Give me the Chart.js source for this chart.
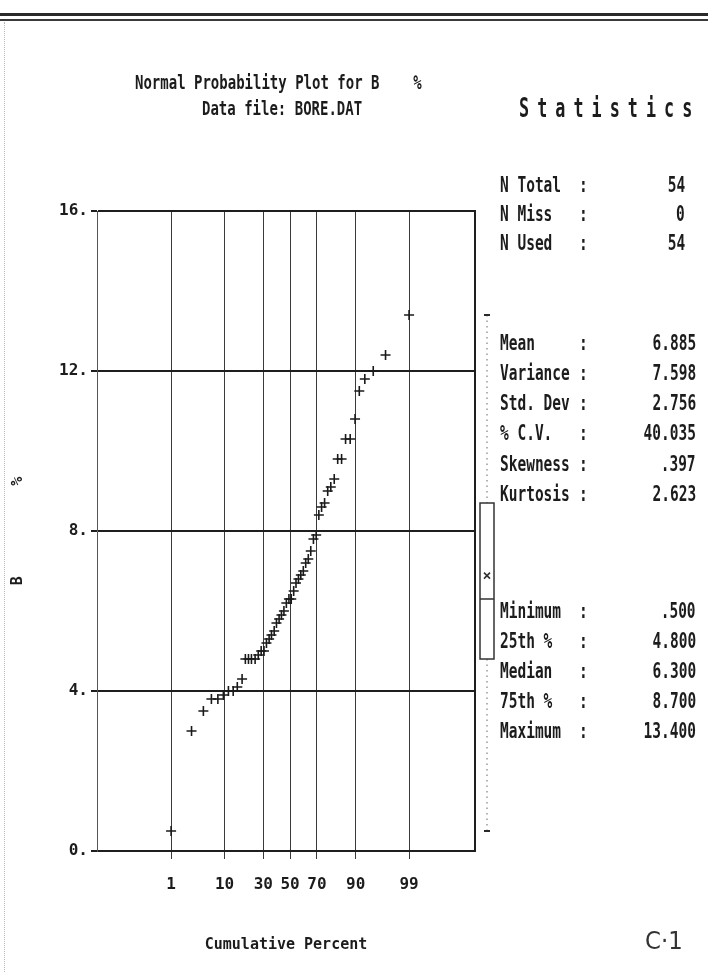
<!DOCTYPE html>
<html>
<head>
<meta charset="utf-8">
<script src="https://cdn.jsdelivr.net/npm/chart.js@4.4.1/dist/chart.umd.min.js"></script>
<style>
html,body{margin:0;padding:0;background:#fff;}
#wrap{position:relative;width:708px;height:972px;overflow:hidden;background:#fff;}
#c{position:absolute;left:0;top:0;}
.t{position:absolute;font-family:'DejaVu Sans Mono','Liberation Mono',monospace;font-weight:bold;color:#1c1c1c;white-space:pre;line-height:1;}
.edge1{position:absolute;left:0;width:708px;top:13px;height:3px;background:#2a2a2a;}
.edge2{position:absolute;left:0;width:708px;top:19px;height:2px;background:#3a3a3a;}
.edge3{position:absolute;left:4px;top:22px;height:950px;border-left:1px dotted #b8b8b8;}
</style>
</head>
<body>
<div id="wrap">
  <canvas id="c" width="708" height="972"></canvas>
  <div class="edge1"></div><div class="edge2"></div><div class="edge3"></div>
  <div id="overlay"></div>
</div>
<script>
// ---------------- data ----------------
const percentTicks = [1, 10, 30, 50, 70, 90, 99];
const yTicks = [0, 4, 8, 12, 16];

// cumulative percent (plotting position) of each point
const cumulativePercent = [
  1.0, 2.7, 4.5, 6.2, 7.9, 9.6, 11.4, 13.3, 15.1, 17.4,
  19.1, 20.8, 22.5, 24.7, 26.7, 28.6, 30.5, 32.2, 34.1, 35.8,
  37.8, 39.5, 41.5, 43.3, 45.2, 47.1, 49.1, 50.9, 52.8, 54.6,
  56.5, 58.3, 60.2, 62.0, 63.9, 65.7, 67.6, 69.5, 71.3, 73.1,
  75.0, 76.9, 78.7, 80.6, 82.4, 84.3, 86.1, 88.0, 89.8, 91.2,
  92.8, 94.8, 96.9, 99.0
];
// B % values (sorted)
const bValues = [
  0.5, 3.0, 3.5, 3.8, 3.8, 3.9, 4.0, 4.0, 4.1, 4.3,
  4.8, 4.8, 4.8, 4.8, 4.9, 5.0, 5.0, 5.2, 5.3, 5.4,
  5.5, 5.7, 5.8, 5.9, 6.0, 6.2, 6.3, 6.3, 6.5, 6.7,
  6.8, 6.9, 7.0, 7.2, 7.3, 7.5, 7.8, 7.9, 8.4, 8.6,
  8.7, 9.0, 9.1, 9.3, 9.8, 9.8, 10.3, 10.3, 10.8, 11.5,
  11.8, 12.0, 12.4, 13.4
];

const statLabels = ['N Total','N Miss','N Used','Mean','Variance','Std. Dev','% C.V.','Skewness','Kurtosis','Minimum','25th %','Median','75th %','Maximum'];
const statValues = ['54','0','54','6.885','7.598','2.756','40.035','.397','2.623','.500','4.800','6.300','8.700','13.400'];

// box plot: min, 25th, median, 75th, max ; mean
const boxValues = [0.5, 4.8, 6.3, 8.7, 13.4];
const meanValue = 6.885;

// ---------------- layout (not data) ----------------
const statRowY = [185,214,243, 343,373,403,433,464,494, 611,641,671,701,731];
const statValueRight = [685,685,685, 696,696,696,696,696,696, 696,696,696,696,696];
const MONO = "'DejaVu Sans Mono','Liberation Mono',monospace";

// ---------------- probability scale ----------------
function probit(p){
  const a=[-3.969683028665376e+01,2.209460984245205e+02,-2.759285104469687e+02,1.383577518672690e+02,-3.066479806614716e+01,2.506628277459239e+00];
  const b=[-5.447609879822406e+01,1.615858368580409e+02,-1.556989798598866e+02,6.680131188771972e+01,-1.328068155288572e+01];
  const c=[-7.784894002430293e-03,-3.223964580411365e-01,-2.400758277161838e+00,-2.549732539343734e+00,4.374664141464968e+00,2.938163982698783e+00];
  const d=[7.784695709041462e-03,3.224671290700398e-01,2.445134137142996e+00,3.754408661907416e+00];
  const pl=0.02425, ph=1-pl; let q,r;
  if(p<pl){q=Math.sqrt(-2*Math.log(p));return (((((c[0]*q+c[1])*q+c[2])*q+c[3])*q+c[4])*q+c[5])/((((d[0]*q+d[1])*q+d[2])*q+d[3])*q+1);}
  if(p<=ph){q=p-0.5;r=q*q;return (((((a[0]*r+a[1])*r+a[2])*r+a[3])*r+a[4])*r+a[5])*q/(((((b[0]*r+b[1])*r+b[2])*r+b[3])*r+b[4])*r+1);}
  q=Math.sqrt(-2*Math.log(1-p));return -(((((c[0]*q+c[1])*q+c[2])*q+c[3])*q+c[4])*q+c[5])/((((d[0]*q+d[1])*q+d[2])*q+d[3])*q+1);
}
function normCdf(z){
  const t=1/(1+0.2316419*Math.abs(z));
  const y=t*(0.319381530+t*(-0.356563782+t*(1.781477937+t*(-1.821255978+t*1.330274429))));
  const p=1-Math.exp(-z*z/2)/Math.sqrt(2*Math.PI)*y;
  return z>=0?p:1-p;
}
class ProbabilityScale extends Chart.Scale {
  determineDataLimits(){
    this.min = this.options.min != null ? this.options.min : 0.01;
    this.max = this.options.max != null ? this.options.max : 99.99;
  }
  buildTicks(){ return percentTicks.map(v => ({value: v})); }
  getLabelForValue(v){ return String(v); }
  configure(){
    super.configure();
    this._zMin = probit(this.min/100);
    this._zMax = probit(this.max/100);
  }
  getPixelForValue(v){
    if (this._zMin === undefined) this.configure();
    const z = probit(v/100);
    return this.getPixelForDecimal((z - this._zMin)/(this._zMax - this._zMin));
  }
  getPixelForTick(i){ return this.getPixelForValue(this.ticks[i].value); }
  getValueForPixel(px){
    const dec = this.getDecimalForPixel(px);
    return 100*normCdf(this._zMin + dec*(this._zMax - this._zMin));
  }
}
ProbabilityScale.id = 'probability';
ProbabilityScale.defaults = {};
Chart.register(ProbabilityScale);

// ---------------- frame + box plot ----------------
const frameBoxPlugin = {
  id: 'frameBox',
  afterDraw(chart){
    const {ctx, chartArea: a} = chart;
    const y = chart.scales.y;
    ctx.save();
    ctx.strokeStyle = '#1e1e1e';
    ctx.lineWidth = 2;
    ctx.beginPath(); ctx.moveTo(a.right, a.top - 1); ctx.lineTo(a.right, a.bottom + 1); ctx.stroke();

    const cx = a.right + 12, hw = 7;
    const [mn, q1, med, q3, mx] = boxValues.map(v => y.getPixelForValue(v));
    ctx.strokeStyle = '#666';
    ctx.lineWidth = 1;
    ctx.setLineDash([1.5, 4]);
    ctx.beginPath();
    ctx.moveTo(cx, mx); ctx.lineTo(cx, q3);
    ctx.moveTo(cx, q1); ctx.lineTo(cx, mn);
    ctx.stroke();
    ctx.setLineDash([]);
    ctx.strokeStyle = '#2a2a2a';
    ctx.lineWidth = 2;
    ctx.beginPath();
    ctx.moveTo(cx - 3, mx); ctx.lineTo(cx + 3, mx);
    ctx.moveTo(cx - 3, mn); ctx.lineTo(cx + 3, mn);
    ctx.stroke();
    ctx.lineWidth = 1.5;
    ctx.strokeStyle = '#333';
    ctx.strokeRect(cx - hw, q3, hw * 2, q1 - q3);
    ctx.beginPath(); ctx.moveTo(cx - hw, med); ctx.lineTo(cx + hw, med); ctx.stroke();
    const my = y.getPixelForValue(meanValue);
    ctx.lineWidth = 1.6;
    ctx.beginPath();
    ctx.moveTo(cx - 3, my - 3); ctx.lineTo(cx + 3, my + 3);
    ctx.moveTo(cx + 3, my - 3); ctx.lineTo(cx - 3, my + 3);
    ctx.stroke();
    ctx.restore();
  }
};

new Chart(document.getElementById('c'), {
  type: 'scatter',
  data: {
    datasets: [{
      data: cumulativePercent.map((p, i) => ({x: p, y: bValues[i]})),
      pointStyle: 'cross',
      pointRadius: 5,
      pointBorderWidth: 1.6,
      borderColor: '#1a1a1a',
      backgroundColor: '#1a1a1a',
      showLine: false
    }]
  },
  options: {
    responsive: false,
    animation: false,
    events: [],
    layout: {padding: {left: 0, top: 211, right: 233, bottom: 0}},
    plugins: {legend: {display: false}, tooltip: {enabled: false}, title: {display: false}},
    scales: {
      x: {
        type: 'probability',
        position: 'bottom',
        min: 0.008,
        max: 99.985,
        grid: {color: '#3a3a3a', lineWidth: 1, tickLength: 8, tickColor: '#3a3a3a'},
        border: {display: true, color: '#1e1e1e', width: 2},
        ticks: {font: {family: MONO, size: 16, weight: 'bold'}, color: '#1c1c1c', padding: 16, autoSkip: false, maxRotation: 0},
        title: {display: true, text: 'Cumulative Percent', font: {family: MONO, size: 15, weight: 'bold'}, color: '#1c1c1c', padding: {top: 0, bottom: 18}},
        afterFit(s){ s.height = 121; }
      },
      y: {
        type: 'linear',
        min: 0,
        max: 16,
        afterBuildTicks(s){ s.ticks = yTicks.map(v => ({value: v})); },
        grid: {color: '#1e1e1e', lineWidth: 2, tickLength: 6, tickColor: '#1e1e1e'},
        border: {display: true, color: '#555', width: 1},
        ticks: {callback: v => v + '.', font: {family: MONO, size: 16, weight: 'bold'}, color: '#1c1c1c', padding: 3},
        title: {display: true, text: 'B          %', font: {family: MONO, size: 15, weight: 'bold'}, color: '#1c1c1c', padding: {top: 9, bottom: 0}},
        afterFit(s){ s.width = 97; }
      }
    }
  },
  plugins: [frameBoxPlugin]
});

// ---------------- text overlay ----------------
const overlay = document.getElementById('overlay');
function addText(str, x, cy, size, sx, opts){
  opts = opts || {};
  const el = document.createElement('div');
  el.className = 't';
  el.textContent = str;
  el.style.fontSize = size + 'px';
  el.style.top = (cy - 0.48 * size) + 'px';
  if (opts.align === 'right') {
    el.style.right = (708 - x) + 'px';
    el.style.transformOrigin = '100% 50%';
  } else {
    el.style.left = x + 'px';
    el.style.transformOrigin = '0 50%';
  }
  el.style.transform = 'scaleX(' + sx + ')';
  if (opts.ls) el.style.letterSpacing = opts.ls + 'px';
  if (opts.family) el.style.fontFamily = opts.family;
  if (opts.weight) el.style.fontWeight = opts.weight;
  if (opts.color) el.style.color = opts.color;
  overlay.appendChild(el);
}
addText('Normal Probability Plot for B    %', 135, 82, 20, 0.70);
addText('Data file: BORE.DAT', 202, 108, 20, 0.70);
addText('Statistics', 519, 107, 27, 0.62, {ls: 13});
statLabels.forEach((lab, i) => {
  addText(lab, 500, statRowY[i], 21, 0.69);
  addText(':', 579, statRowY[i], 21, 0.69);
  addText(statValues[i], statValueRight[i], statRowY[i], 21, 0.69, {align: 'right'});
});
addText('C·1', 645, 941, 24, 0.95, {family: "'DejaVu Sans',sans-serif", weight: 'normal', color: '#333'});
</script>
</body>
</html>
